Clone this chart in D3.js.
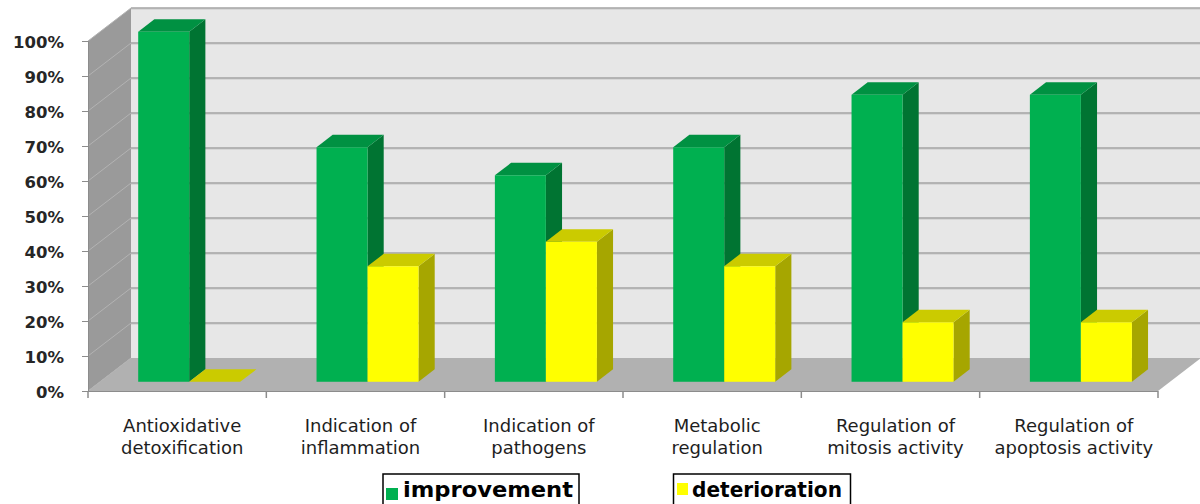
<!DOCTYPE html>
<html>
<head>
<meta charset="utf-8">
<script src="https://cdn.jsdelivr.net/npm/d3@7"></script>
<style>
  html, body { margin: 0; padding: 0; background: #ffffff; }
  svg { display: block; }
</style>
</head>
<body>
<svg id="chart" width="1200" height="504"></svg>
<script>
// ---- data ----
const categories = [
  "Antioxidative detoxification",
  "Indication of inflammation",
  "Indication of pathogens",
  "Metabolic regulation",
  "Regulation of mitosis activity",
  "Regulation of apoptosis activity"
];
const categoryLines = [
  ["Antioxidative", "detoxification"],
  ["Indication of", "inflammation"],
  ["Indication of", "pathogens"],
  ["Metabolic", "regulation"],
  ["Regulation of", "mitosis activity"],
  ["Regulation of", "apoptosis activity"]
];
const seriesNames = ["improvement", "deterioration"];
const improvement = [1.00, 0.67, 0.59, 0.67, 0.82, 0.82];
const deterioration = [0.00, 0.33, 0.40, 0.33, 0.17, 0.17];
const yTicks = [0, 0.1, 0.2, 0.3, 0.4, 0.5, 0.6, 0.7, 0.8, 0.9, 1.0];

// ---- layout ----
const X0 = 88, Y0 = 391, W = 1070, H = 350;
const DX = 43, DY = -33;          // full depth offset
const zFront = 0.28, zBack = 0.656; // bar depth range (fraction of depth)

const colors = {
  improvement: { front: "#00b050", top: "#009142", side: "#007432" },
  deterioration: { front: "#ffff00", top: "#cbcb00", side: "#a6a600" }
};

const svg = d3.select("#chart");

const x = d3.scaleBand().domain(categories).range([X0, X0 + W])
  .paddingInner(0.428).paddingOuter(0.214);
const xs = d3.scaleBand().domain(seriesNames).range([0, x.bandwidth()]);
const h = d3.scaleLinear().domain([0, 1]).range([0, H]);
const yAxisScale = d3.scaleLinear().domain([0, 1]).range([Y0, Y0 - H]);
const z = d3.scaleLinear().domain([0, 1]).range([0, 1]);

function P(px, hv, zf) {
  return [px + DX * z(zf), Y0 - hv + DY * z(zf)];
}
const poly = pts => pts.map(p => p.join(",")).join(" ");

// ---- walls ----
const walls = svg.append("g");
walls.append("polygon")
  .attr("points", poly([P(X0, 0, 1), P(X0 + W, 0, 1), P(X0 + W, H, 1), P(X0, H, 1)]))
  .attr("fill", "#e7e7e7");
walls.append("rect")
  .attr("x", X0 + W + DX - 1).attr("y", Y0 + DY - H).attr("width", 20).attr("height", H)
  .attr("fill", "#e7e7e7");
walls.append("polygon")
  .attr("points", poly([P(X0, 0, 0), P(X0, H, 0), P(X0, H, 1), P(X0, 0, 1)]))
  .attr("fill", "#9a9a9a");

const gridVals = yTicks.filter(v => v > 0);
walls.selectAll("line.gb2").data(gridVals).enter().append("line")
  .attr("x1", P(X0, 0, 1)[0]).attr("x2", 1200)
  .attr("y1", v => P(X0, h(v), 1)[1] + 1.2).attr("y2", v => P(X0, h(v), 1)[1] + 1.2)
  .attr("stroke", "#cfcfcf").attr("stroke-width", 1);
walls.selectAll("line.gb").data(gridVals).enter().append("line")
  .attr("x1", P(X0, 0, 1)[0]).attr("x2", 1200)
  .attr("y1", v => P(X0, h(v), 1)[1]).attr("y2", v => P(X0, h(v), 1)[1])
  .attr("stroke", "#a3a3a3").attr("stroke-width", 1.6);
walls.selectAll("line.gs").data(yTicks).enter().append("line")
  .attr("x1", v => P(X0, h(v), 0)[0]).attr("y1", v => P(X0, h(v), 0)[1])
  .attr("x2", v => P(X0, h(v), 1)[0]).attr("y2", v => P(X0, h(v), 1)[1])
  .attr("stroke", "#b3b3b3").attr("stroke-width", 1);

walls.append("polygon")
  .attr("points", poly([P(X0, 0, 0), P(X0 + W, 0, 0), P(X0 + W, 0, 1), P(X0, 0, 1)]))
  .attr("fill", "#b1b1b1");

// ---- bars ----
const rows = categories.map((c, i) => ({ cat: c, values: [
  { key: "improvement", v: improvement[i] },
  { key: "deterioration", v: deterioration[i] }
]}));

const barG = svg.append("g");
rows.forEach(r => {
  r.values.forEach(d => {
    const x1 = x(r.cat) + xs(d.key);
    const x2 = x1 + xs.bandwidth();
    const hv = h(d.v);
    const c = colors[d.key];
    const g = barG.append("g");
    if (hv > 0) {
      g.append("polygon")
        .attr("points", poly([P(x2, 0, zFront), P(x2, 0, zBack), P(x2, hv, zBack), P(x2, hv, zFront)]))
        .attr("fill", c.side);
    }
    g.append("polygon")
      .attr("points", poly([P(x1, hv, zFront), P(x2, hv, zFront), P(x2, hv, zBack), P(x1, hv, zBack)]))
      .attr("fill", c.top);
    if (hv > 0) {
      const a = P(x1, hv, zFront), b = P(x2, 0, zFront);
      g.append("rect")
        .attr("x", a[0]).attr("y", a[1]).attr("width", b[0] - a[0]).attr("height", b[1] - a[1])
        .attr("fill", c.front);
    }
  });
});

// ---- axes ----
const yAxis = d3.axisLeft(yAxisScale).tickValues(yTicks).tickFormat(d3.format(".0%"))
  .tickSize(6).tickPadding(18);
const yg = svg.append("g").attr("transform", `translate(${X0},0)`).call(yAxis);
yg.select(".domain").attr("stroke", "#8c8c8c");
yg.selectAll(".tick line").attr("stroke", "#8c8c8c");
yg.selectAll(".tick text")
  .attr("font-family", "DejaVu Sans")
  .attr("font-weight", "bold")
  .attr("font-size", "16.5px")
  .attr("fill", "#262626")
  .attr("dy", "0.42em");

const xg = svg.append("g");
xg.append("line").attr("x1", X0).attr("x2", X0 + W).attr("y1", Y0 + 0.5).attr("y2", Y0 + 0.5)
  .attr("stroke", "#8c8c8c").attr("stroke-width", 1);
const bounds = d3.range(categories.length + 1).map(i => X0 + i * x.step());
xg.selectAll("line.xt").data(bounds).enter().append("line")
  .attr("x1", d => d).attr("x2", d => d).attr("y1", Y0).attr("y2", Y0 + 7)
  .attr("stroke", "#8c8c8c").attr("stroke-width", 1.5);

const lab = svg.append("g")
  .attr("font-family", "DejaVu Sans")
  .attr("font-size", "18px")
  .attr("fill", "#1e1e1e")
  .attr("text-anchor", "middle");
categories.forEach((c, i) => {
  const cx = x(c) + x.bandwidth() / 2 + 5;
  categoryLines[i].forEach((ln, j) => {
    lab.append("text").attr("x", cx).attr("y", 432 + j * 21.5).text(ln);
  });
});

// ---- legend ----
const legendItems = [
  { key: "improvement", box: [383, 474, 196, 34], mark: [386, 488, 12, 12], tx: 403, len: 170 },
  { key: "deterioration", box: [673.5, 474, 177, 34], mark: [677, 483, 11, 12], tx: 692, len: 150 }
];
const leg = svg.append("g");
legendItems.forEach(it => {
  leg.append("rect").attr("x", it.box[0]).attr("y", it.box[1]).attr("width", it.box[2]).attr("height", it.box[3])
    .attr("fill", "#ffffff").attr("stroke", "#000000").attr("stroke-width", 1.5);
  leg.append("rect").attr("x", it.mark[0]).attr("y", it.mark[1]).attr("width", it.mark[2]).attr("height", it.mark[3])
    .attr("fill", colors[it.key].front);
  leg.append("text").attr("x", it.tx).attr("y", 497)
    .attr("font-family", "DejaVu Sans").attr("font-weight", "bold").attr("font-size", "21.5px")
    .attr("textLength", it.len).attr("lengthAdjust", "spacingAndGlyphs")
    .attr("fill", "#000000").text(it.key);
});
</script>
</body>
</html>
